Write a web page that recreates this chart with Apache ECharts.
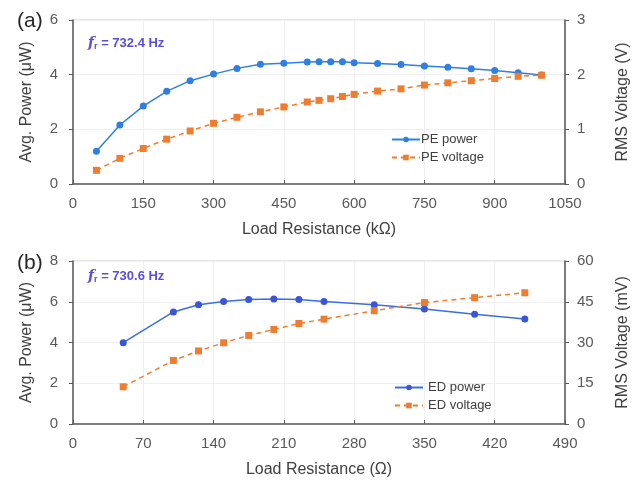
<!DOCTYPE html>
<html>
<head>
<meta charset="utf-8">
<script src="https://cdn.jsdelivr.net/npm/echarts@6/dist/echarts.min.js"></script>
<style>
  html, body { margin: 0; padding: 0; background: #fff; }
  #chart { width: 643px; height: 481px; }
</style>
</head>
<body>
<div id="chart"></div>
<script>
// (a) PE harvester, load in kΩ
var peLoad = [50, 100, 150, 200, 250, 300, 350, 400, 450, 500, 525, 550, 575, 600, 650, 700, 750, 800, 850, 900, 950, 1000];
var pePower = [1.2, 2.16, 2.85, 3.39, 3.78, 4.02, 4.23, 4.38, 4.42, 4.46, 4.47, 4.47, 4.47, 4.44, 4.41, 4.37, 4.32, 4.27, 4.22, 4.15, 4.07, 3.99];
var peVoltage = [0.25, 0.47, 0.65, 0.82, 0.97, 1.11, 1.22, 1.32, 1.41, 1.5, 1.53, 1.56, 1.6, 1.64, 1.7, 1.74, 1.81, 1.85, 1.89, 1.93, 1.97, 1.99];

// (b) ED harvester, load in Ω
var edLoad = [50, 100, 125, 150, 175, 200, 225, 250, 300, 350, 400, 450];
var edPower = [3.99, 5.5, 5.85, 6.01, 6.11, 6.14, 6.11, 6.01, 5.85, 5.64, 5.39, 5.15];
var edVoltage = [13.7, 23.4, 26.9, 29.9, 32.6, 34.8, 37.0, 38.6, 41.7, 44.7, 46.5, 48.3];

function zip(xs, ys) {
  return xs.map(function (x, i) { return [x, ys[i]]; });
}

(function () {
  var myChart = echarts.init(document.querySelector("#chart"));
  var font = "Liberation Sans, Arial, sans-serif";
  var orange = "#ed7d31";

  // common axis styling
  function xAx(idx, max, step, name) {
    return {
      type: "value", gridIndex: idx, min: 0, max: max, interval: step,
      name: name, nameLocation: "middle", nameGap: 38,
      nameTextStyle: { color: "#404040", fontSize: 16, fontFamily: font },
      axisLine: { lineStyle: { color: "#595959", width: 1.5 } },
      axisTick: { inside: true, length: 4, lineStyle: { color: "#595959" } },
      axisLabel: {
        color: "#595959", fontSize: 15, fontFamily: font, margin: 12,
        formatter: function (v) { return String(v); }, //不要千位分隔符
      },
      splitLine: { show: true, lineStyle: { color: "#f0f0f0" } },
    };
  }
  function yAx(idx, max, step, name, pos) {
    var left = pos === "left";
    return {
      type: "value", gridIndex: idx, min: 0, max: max, interval: step, position: pos,
      name: name, nameLocation: "middle", nameGap: left ? 38 : 50,
      nameTextStyle: { color: "#404040", fontSize: 16, fontFamily: font },
      axisLine: { show: true, lineStyle: { color: "#595959", width: 1.5 } },
      axisTick: { show: true, length: 4, lineStyle: { color: "#595959" } },
      axisLabel: { color: "#595959", fontSize: 15, fontFamily: font, margin: left ? 15 : 12 },
      splitLine: { show: left, lineStyle: { color: "#f0f0f0" } },
    };
  }
  function fr(value, top) {
    return {
      left: 83, top: top,
      text: "{i|f}{s|r}{t| = " + value + " Hz}",
      textStyle: {
        rich: {
          i: { color: "#5a4fd6", fontSize: 14, fontStyle: "italic", fontFamily: "DejaVu Serif" },
          s: { color: "#5a4fd6", fontSize: 9, padding: [7, 0, 0, 0], fontFamily: font },
          t: { color: "#5a4fd6", fontSize: 13, fontFamily: font },
        },
      },
    };
  }

  var option = {
    animation: false,
    title: [
      { text: "(a)", left: 12, top: 6, textStyle: { fontSize: 21, fontWeight: "normal", color: "#262626", fontFamily: font } },
      { text: "(b)", left: 12, top: 248, textStyle: { fontSize: 21, fontWeight: "normal", color: "#262626", fontFamily: font } },
      fr("732.4", 30),
      fr("730.6", 263),
    ],
    grid: [
      { left: 73, right: 78, top: 20, height: 164, show: true, borderColor: "#cfcfcf", borderWidth: 1 },
      { left: 73, right: 78, top: 261, height: 163, show: true, borderColor: "#cfcfcf", borderWidth: 1 },
    ],
    legend: [
      {
        orient: "vertical", left: 386, top: 128, itemWidth: 28, itemHeight: 7, itemGap: 5,
        data: ["PE power", "PE voltage"],
        textStyle: { color: "#404040", fontSize: 13, fontFamily: font, padding: [0, 0, 0, -4] },
      },
      {
        orient: "vertical", left: 389, top: 376, itemWidth: 28, itemHeight: 7, itemGap: 5,
        data: ["ED power", "ED voltage"],
        textStyle: { color: "#404040", fontSize: 13, fontFamily: font },
      },
    ],
    xAxis: [
      xAx(0, 1050, 150, "Load Resistance (kΩ)"),
      xAx(1, 490, 70, "Load Resistance (Ω)"),
    ],
    yAxis: [
      yAx(0, 6, 2, "Avg. Power (μW)", "left"),
      yAx(0, 3, 1, "RMS Voltage (V)", "right"),
      yAx(1, 8, 2, "Avg. Power (μW)", "left"),
      yAx(1, 60, 15, "RMS Voltage (mV)", "right"),
    ],
    series: [
      {
        name: "PE power", type: "line", xAxisIndex: 0, yAxisIndex: 0,
        data: zip(peLoad, pePower),
        symbol: "circle", symbolSize: 7,
        itemStyle: { color: "#2f7fe3" },
        lineStyle: { color: "#2f7fe3", width: 1.5 },
      },
      {
        name: "PE voltage", type: "line", xAxisIndex: 0, yAxisIndex: 1,
        data: zip(peLoad, peVoltage),
        symbol: "rect", symbolSize: 7,
        itemStyle: { color: orange },
        lineStyle: { color: orange, width: 1.5, type: [5, 4] },
      },
      {
        name: "ED power", type: "line", xAxisIndex: 1, yAxisIndex: 2,
        data: zip(edLoad, edPower),
        symbol: "circle", symbolSize: 7,
        itemStyle: { color: "#3b55d6" },
        lineStyle: { color: "#3b6fe0", width: 1.5 },
      },
      {
        name: "ED voltage", type: "line", xAxisIndex: 1, yAxisIndex: 3,
        data: zip(edLoad, edVoltage),
        symbol: "rect", symbolSize: 7,
        itemStyle: { color: orange },
        lineStyle: { color: orange, width: 1.5, type: [5, 4] },
      },
    ],
  };
  myChart.setOption(option);
})();
</script>
</body>
</html>
